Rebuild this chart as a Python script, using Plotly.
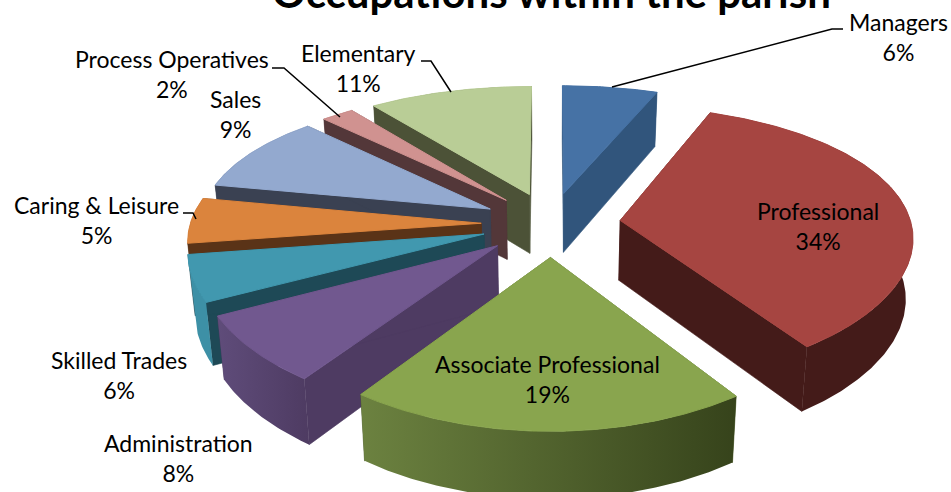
import numpy as np
import plotly.graph_objects as go

categories = ["Managers", "Professional", "Associate Professional", "Administration",
              "Skilled Trades", "Caring & Leisure", "Sales", "Process Operatives", "Elementary"]
percent_labels = [6, 34, 19, 8, 6, 5, 9, 2, 11]
# slice sizes
shares = [5.97, 34.5, 19.3, 7.6, 5.3, 5.39, 9.58, 2.08, 10.28]

top_colors = ["#4672A5", "#A64541", "#89A54E", "#71588F", "#4198AF", "#DB843D", "#93A9CF", "#D09290", "#B9CD96"]
wall_colors = ["#31557C", "#441B19", "#4A5A2A", "#4E3B62", "#1E4956", "#5A3317", "#3A4152", "#533739", "#4C5237"]
outer_left = ["#31557C", "#441B19", "#6C8240", "#5F4C7A", "#3D90A6", "#5A3317", "#3A4152", "#533739", "#4C5237"]
outer_right = ["#31557C", "#441B19", "#36431B", "#4E3B62", "#3D90A6", "#5A3317", "#3A4152", "#533739", "#4C5237"]
draw_order = [8, 7, 6, 5, 4, 3, 0, 1, 2]

title_text = "Occupations within the parish"
label_pos = {
    "Managers": (898, 37), "Professional": (818, 226), "Associate Professional": (547, 379),
    "Administration": (178, 458), "Skilled Trades": (119, 375), "Caring & Leisure": (96, 220),
    "Sales": (235, 114), "Process Operatives": (172, 74), "Elementary": (358, 68),
}
leaders = [
    [(612, 87), (832, 29), (843, 29)],
    [(451, 92), (431, 61), (421, 61)],
    [(340, 117), (284, 68), (272, 68)],
    [(196, 219), (193, 213), (183, 213)],
]

# projection of the tilted pie
CX, CY = 551, 224
A, B = 291, 134
KX, KY = 0.11, 0.16
EXPLODE = 0.24
FONT = "Lato"


def project(u, v):
    u = np.asarray(u, float)
    v = np.asarray(v, float)
    return CX + A * u / (1 + KX * v), CY - B * v / (1 + KY * v)


def drop(u, v):
    x, y = project(u, v)
    h = 60 / (1 + 0.09 * np.asarray(v, float))
    return CX + (x - CX) * 0.98, y + h


fig = go.Figure()


def poly(x, y, color=None, grad=None, edge=0):
    kw = dict(x=list(x), y=list(y), mode="lines", fill="toself",
              line=dict(width=edge, color=color if color else "rgba(0,0,0,0)"),
              hoverinfo="skip", showlegend=False)
    if grad:
        kw["fillgradient"] = dict(type="horizontal", colorscale=[[0, grad[0]], [1, grad[1]]])
        kw["fillcolor"] = grad[0]
    else:
        kw["fillcolor"] = color
    fig.add_trace(go.Scatter(**kw))


total = sum(shares)
edges = np.cumsum([0] + shares) / total * 2 * np.pi
for i in draw_order:
    a0, a1 = edges[i], edges[i + 1]
    mid = (a0 + a1) / 2
    ou, ov = EXPLODE * np.sin(mid), EXPLODE * np.cos(mid)
    th = np.linspace(a0, a1, max(int((a1 - a0) * 90), 4))
    au, av = ou + np.sin(th), ov + np.cos(th)

    tx, ty = project(au, av)
    bx, by = drop(au, av)
    px, py = project(ou, ov)
    qx, qy = drop(ou, ov)

    # radial side walls, outer rim, then the top surface
    poly([px, tx[0], bx[0], qx, px], [py, ty[0], by[0], qy, py], wall_colors[i], edge=0.6)
    poly([px, tx[-1], bx[-1], qx, px], [py, ty[-1], by[-1], qy, py], wall_colors[i], edge=0.6)
    poly(np.r_[tx, bx[::-1], tx[0]], np.r_[ty, by[::-1], ty[0]], grad=(outer_left[i], outer_right[i]))
    poly(np.r_[px, tx, px], np.r_[py, ty, py], top_colors[i], edge=1)

shapes = []
for pts in leaders:
    path = "M " + " L ".join(f"{x},{y}" for x, y in pts)
    shapes.append(dict(type="path", path=path, xref="x", yref="y", line=dict(color="black", width=1.5)))

annotations = [dict(x=551, y=1, xref="x", yref="paper", yshift=8, text=f"<b>{title_text}</b>", showarrow=False,
                    xanchor="center", yanchor="middle", font=dict(family=FONT, size=42, color="black"))]
for c, v in zip(categories, percent_labels):
    x, y = label_pos[c]
    annotations.append(dict(x=x, y=y, xref="x", yref="y", text=f"{c}<br>{v}%", showarrow=False,
                            xanchor="center", yanchor="middle", align="center",
                            font=dict(family=FONT, size=23, color="black")))

fig.update_layout(
    width=951, height=492, margin=dict(l=0, r=0, t=0, b=0),
    paper_bgcolor="white", plot_bgcolor="white", showlegend=False,
    xaxis=dict(range=[0, 951], visible=False, fixedrange=True),
    yaxis=dict(range=[492, 0], visible=False, fixedrange=True),
    shapes=shapes, annotations=annotations,
)
fig.write_html("out.html", config={"displayModeBar": False},
               post_script="document.body.style.margin='0';document.body.style.overflow='hidden';")
